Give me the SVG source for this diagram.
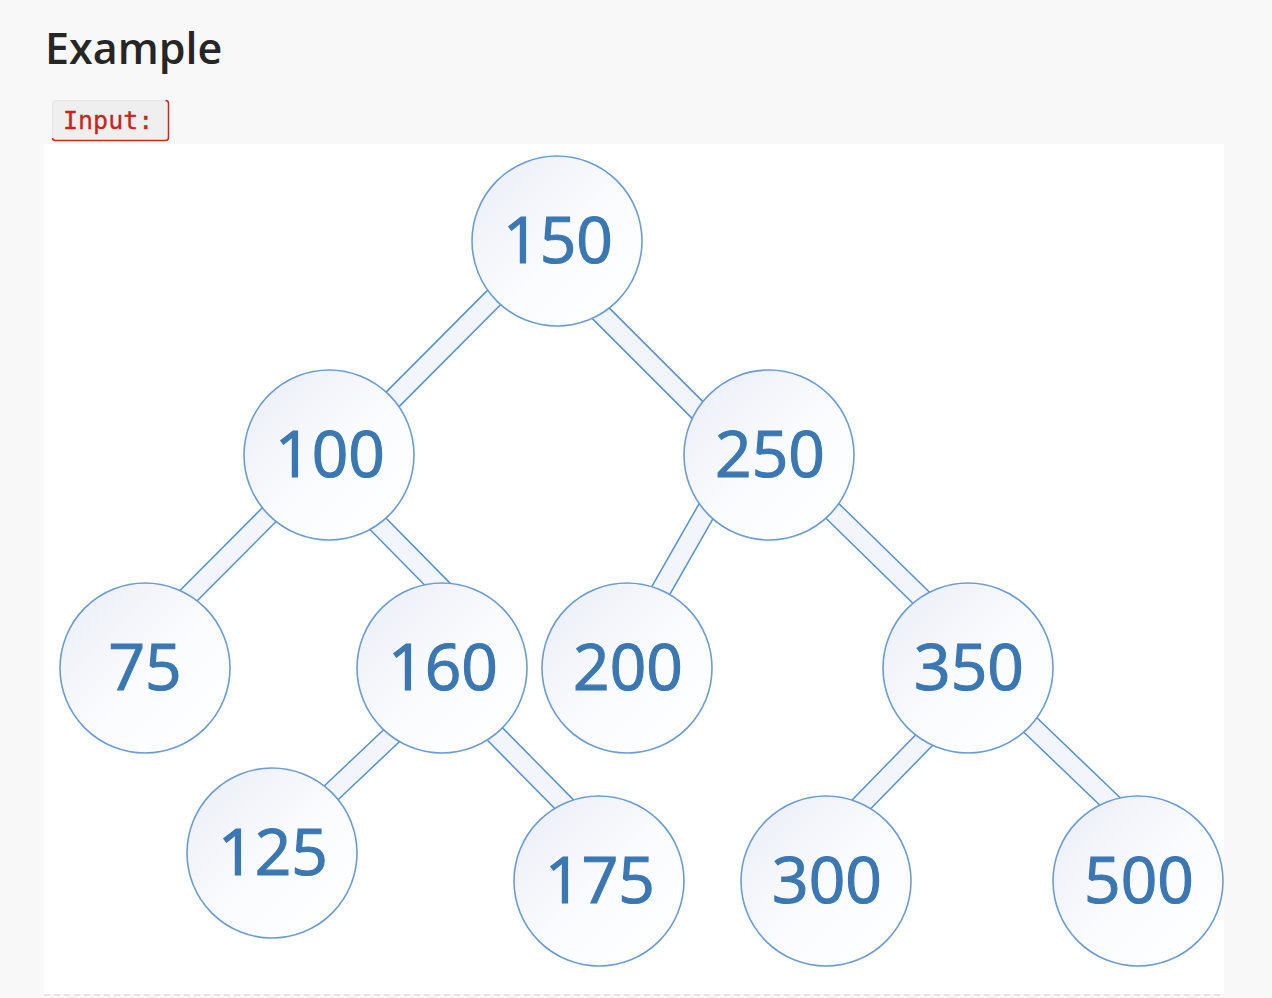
<svg xmlns="http://www.w3.org/2000/svg" width="1272" height="998" viewBox="0 0 1272 998">
<defs>
<linearGradient id="nodeFill" x1="0" y1="0" x2="1" y2="1">
<stop offset="0" stop-color="#e9edf6"/>
<stop offset="0.55" stop-color="#fbfcfe"/>
<stop offset="1" stop-color="#ffffff"/>
</linearGradient>
<style>
.node circle{fill:url(#nodeFill);stroke:#6b9bd0;stroke-width:1.6}
.node text{font-family:"Open Sans","Noto Sans","DejaVu Sans",sans-serif;font-size:64px;fill:#3b77b2;stroke:#3b77b2;stroke-width:1.2;text-anchor:middle}
.bo{stroke:#5590cf;stroke-width:21;stroke-linecap:butt}
.bi{stroke:#f2f5fb;stroke-width:18;stroke-linecap:butt}
</style>
</defs>
<rect x="0" y="0" width="1272" height="998" fill="#f8f8f8"/>
<text x="45" y="64" font-family="'Open Sans','Noto Sans',sans-serif" font-size="43" font-weight="600" fill="#262626">Example</text>
<g id="input-label">
<rect x="52.5" y="100.5" width="116" height="40" rx="3" fill="#efefef" stroke="#e4e4e4"/>
<path d="M52.5 138 Q52.5 140.5 55.5 140.5 L165.5 140.5 Q168.5 140.5 168.5 137.5 L168.5 103.5 Q168.5 100.5 165.5 100.5" fill="none" stroke="#c9291d" stroke-width="1.5"/>
<text x="63" y="129" font-family="'DejaVu Sans Mono','Liberation Mono',monospace" font-size="25" fill="#c7261b" stroke="#c7261b" stroke-width="0.3">Input:</text>
</g>
<rect x="44" y="144" width="1180" height="850" fill="#ffffff"/>
<line x1="44" y1="995" x2="1224" y2="995" stroke="#dedede" stroke-width="1.5" stroke-dasharray="6 4"/>
<g id="connectors">
<g class="edge"><line class="bo" x1="503" y1="288.5" x2="384" y2="408"/><line class="bi" x1="503" y1="288.5" x2="384" y2="408"/></g>
<g class="edge"><line class="bo" x1="590" y1="302.5" x2="710" y2="422.5"/><line class="bi" x1="590" y1="302.5" x2="710" y2="422.5"/></g>
<g class="edge"><line class="bo" x1="279.4" y1="504.4" x2="178.6" y2="605.6"/><line class="bi" x1="279.4" y1="504.4" x2="178.6" y2="605.6"/></g>
<g class="edge"><line class="bo" x1="367.8" y1="513.5" x2="446.3" y2="593.2"/><line class="bi" x1="367.8" y1="513.5" x2="446.3" y2="593.2"/></g>
<g class="edge"><line class="bo" x1="712.9" y1="499.2" x2="655.1" y2="600.5"/><line class="bi" x1="712.9" y1="499.2" x2="655.1" y2="600.5"/></g>
<g class="edge"><line class="bo" x1="823" y1="501.7" x2="929.9" y2="606.3"/><line class="bi" x1="823" y1="501.7" x2="929.9" y2="606.3"/></g>
<g class="edge"><line class="bo" x1="401.4" y1="726.4" x2="322.4" y2="801.1"/><line class="bi" x1="401.4" y1="726.4" x2="322.4" y2="801.1"/></g>
<g class="edge"><line class="bo" x1="486.2" y1="725.1" x2="573" y2="813.2"/><line class="bi" x1="486.2" y1="725.1" x2="573" y2="813.2"/></g>
<g class="edge"><line class="bo" x1="933" y1="731" x2="852" y2="814"/><line class="bi" x1="933" y1="731" x2="852" y2="814"/></g>
<g class="edge"><line class="bo" x1="1021" y1="716" x2="1121" y2="812"/><line class="bi" x1="1021" y1="716" x2="1121" y2="812"/></g>
</g>
<g id="n150" class="node"><circle cx="557" cy="241" r="85"/><text x="558" y="263">150</text></g>
<g id="n100" class="node"><circle cx="329" cy="455" r="85"/><text x="330" y="477">100</text></g>
<g id="n250" class="node"><circle cx="769" cy="455" r="85"/><text x="770" y="477">250</text></g>
<g id="n75" class="node"><circle cx="145" cy="668" r="85"/><text x="145" y="690">75</text></g>
<g id="n160" class="node"><circle cx="442" cy="668" r="85"/><text x="443" y="690">160</text></g>
<g id="n200" class="node"><circle cx="627" cy="668" r="85"/><text x="628" y="690">200</text></g>
<g id="n350" class="node"><circle cx="968" cy="668" r="85"/><text x="969" y="690">350</text></g>
<g id="n125" class="node"><circle cx="272" cy="853" r="85"/><text x="273" y="875">125</text></g>
<g id="n175" class="node"><circle cx="599" cy="881" r="85"/><text x="600" y="903">175</text></g>
<g id="n300" class="node"><circle cx="826" cy="881" r="85"/><text x="827" y="903">300</text></g>
<g id="n500" class="node"><circle cx="1138" cy="881" r="85"/><text x="1139" y="903">500</text></g>
</svg>
